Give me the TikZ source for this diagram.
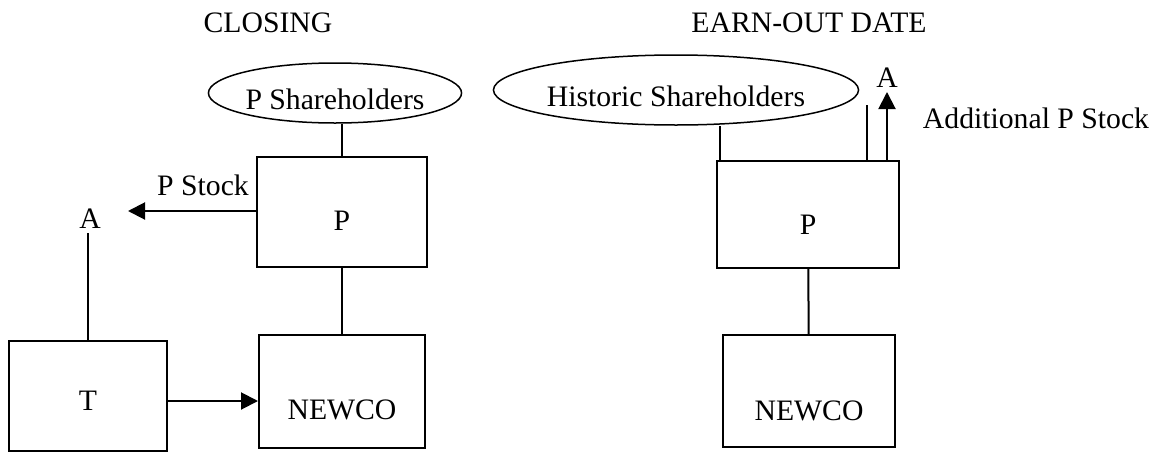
\documentclass[tikz,border=0pt]{standalone}
\usepackage{fontspec}
\setmainfont{Liberation Serif}
\usetikzlibrary{shapes.geometric,arrows.meta}

\begin{document}
\begin{tikzpicture}[x=1pt, y=-1pt, line width=2pt, font=\fontsize{29.7}{34}\selectfont]
\tikzset{boite/.style={draw, inner sep=0pt}}
\tikzset{bulle/.style={draw, ellipse, line width=1.5pt, inner sep=0pt, text height=34pt}}
\tikzset{fleche/.style={-{Triangle[length=17pt, width=17pt]}}}
\useasboundingbox (0,0) rectangle (1162,453);
% closing
\node (titre1) at (268,23) {CLOSING};
\node[bulle, minimum width=249pt, minimum height=60pt] (Psh1) at (335,93) {P Shareholders};
\node[boite, minimum width=170pt, minimum height=110pt, text height=36pt] (P1) at (342,212) {P};
\node[boite, minimum width=166pt, minimum height=113pt, text height=57pt] (N1) at (342,391.5) {NEWCO};
\node[boite, minimum width=158pt, minimum height=110pt, text height=28pt] (T) at (88,396) {T};
\node (A1) at (90,219) {A};
\node (stock1) at (203,185) {P Stock};
\coordinate (pA1) at (128,211);
\draw (Psh1.south -| P1.north) -- (P1.north);
\draw (P1) -- (N1);
\draw[fleche] (pA1 -| P1.west) -- (pA1);
\draw (T.north) -- (T.north |- A1.south);
\draw[fleche] ([yshift=-5pt]T.east) -- ([yshift=-5pt]T.east -| N1.west);
% earn-out date
\node (titre2) at (809,23) {EARN-OUT DATE};
\node[bulle, minimum width=298pt, minimum height=70pt] (Hsh) at (676,90) {Historic Shareholders};
\node[boite, minimum width=182pt, minimum height=107pt, text height=39pt] (P2) at (808,214.5) {P};
\node[boite, minimum width=172pt, minimum height=112pt, text height=60pt] (N2) at (809,391) {NEWCO};
\node (A2) at (887,78) {A};
\node (stock2) at (1036,118) {Additional P Stock};
\coordinate (hA2) at (867,105);
\coordinate (pA2) at (887,92);
\draw ([xshift=4pt]P2.north west) -- ([xshift=4pt]P2.north west |- Hsh.south);
\draw (P2.north -| hA2) -- (hA2);
\draw[fleche] (P2.north -| pA2) -- (pA2);
\draw (P2) -- (N2);
\end{tikzpicture}
\end{document}
